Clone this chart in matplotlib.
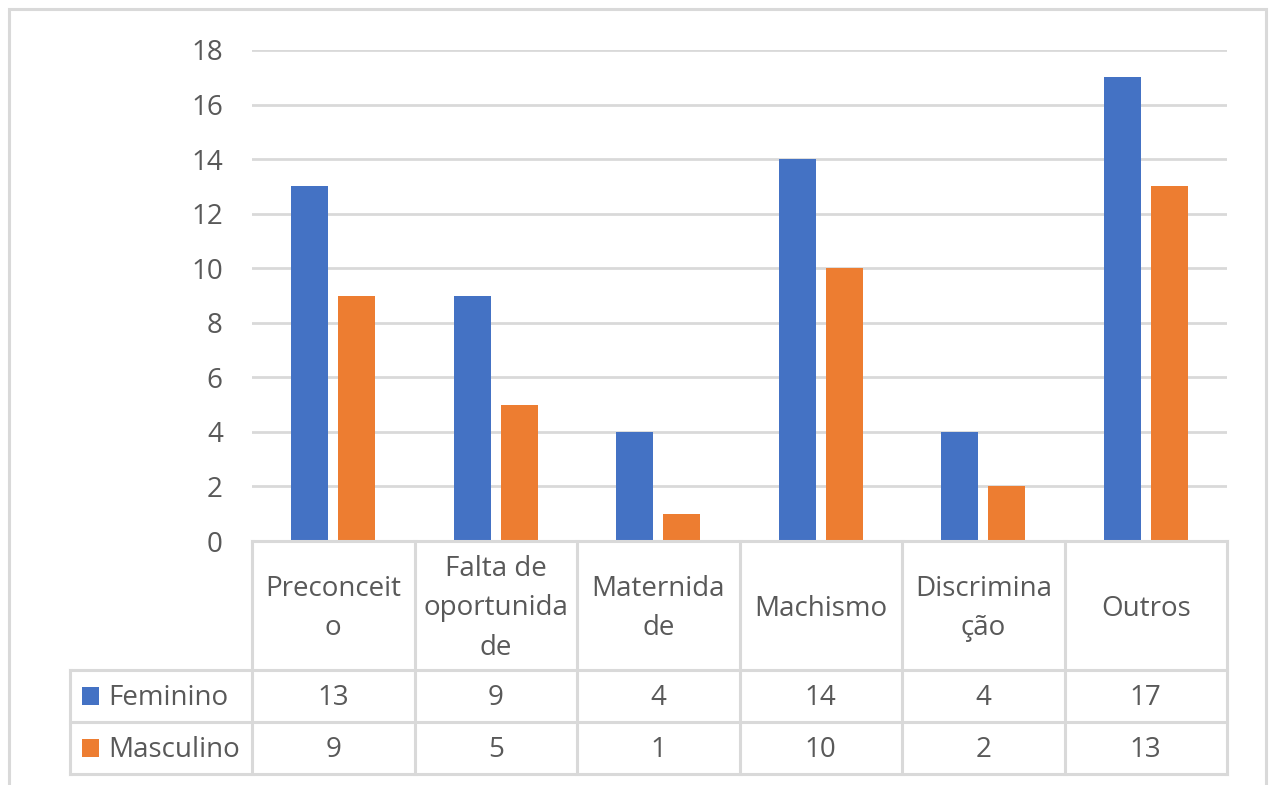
import matplotlib.pyplot as plt
from matplotlib.transforms import blended_transform_factory
from matplotlib.patches import Rectangle

categories = ["Preconceit\no", "Falta de\noportunida\nde", "Maternida\nde",
              "Machismo", "Discrimina\nção", "Outros"]
feminino = [13, 9, 4, 14, 4, 17]
masculino = [9, 5, 1, 10, 2, 13]
series = [("Feminino", feminino, "#4472C4"), ("Masculino", masculino, "#ED7D31")]
yticks = [0, 2, 4, 6, 8, 10, 12, 14, 16, 18]

plt.rcParams["font.family"] = ["Open Sans", "DejaVu Sans"]
text_color = "#595959"
line_color = "#D9D9D9"
fs = 20

W, H = 1272, 785
fig = plt.figure(figsize=(W / 100, H / 100), dpi=100)

# outer chart border
fig.add_artist(Rectangle((9 / W, -0.05), (1266 - 9) / W, 1.05 - 9 / H,
                         transform=fig.transFigure, fill=False,
                         edgecolor=line_color, linewidth=2.2))

ax = fig.add_axes([252 / W, 1 - 541 / H, (1227 - 252) / W, (541 - 50) / H])
n = len(categories)
x = list(range(n))
width = 0.228
offset = 0.145
for i, (name, vals, color) in enumerate(series):
    pos = [xi + (offset if i else -offset) for xi in x]
    ax.bar(pos, vals, width, color=color, zorder=2)

ax.set_xlim(-0.5, n - 0.5)
ax.set_ylim(0, 18)
ax.set_yticks(yticks)
ax.yaxis.grid(True, color=line_color, linewidth=2)
ax.set_axisbelow(True)
for s in ax.spines.values():
    s.set_visible(False)
ax.tick_params(axis="y", length=0, pad=21, labelsize=fs, labelcolor=text_color)
ax.set_xticks([])

# data table below the plot
tr = blended_transform_factory(ax.transData, ax.transAxes)
ax_h = 541 - 50
y_top = 0.0
y_hdr = -(670 - 541) / ax_h
y_r1 = -(722 - 541) / ax_h
y_r2 = -(774 - 541) / ax_h
x_left = -0.5 + (70 - 252) / ((1227 - 252) / n)
lw = 2.2
nudge = 3 / ax_h  # small downward shift of the cell text

def hline(y, x0, x1):
    ax.plot([x0, x1], [y, y], color=line_color, lw=lw, transform=tr,
            clip_on=False, solid_capstyle="projecting")

def vline(xv, y0, y1):
    ax.plot([xv, xv], [y0, y1], color=line_color, lw=lw, transform=tr,
            clip_on=False, solid_capstyle="projecting")

hline(y_top, -0.5, n - 0.5)
hline(y_hdr, x_left, n - 0.5)
hline(y_r1, x_left, n - 0.5)
hline(y_r2, x_left, n - 0.5)
for k in range(n + 1):
    vline(k - 0.5, y_top, y_r2)
vline(x_left, y_hdr, y_r2)

for k, cat in enumerate(categories):
    ax.text(k, (y_top + y_hdr) / 2 - nudge, cat, transform=tr, ha="center",
            va="center", fontsize=fs, color=text_color, linespacing=1.56)

rows = [(y_hdr + y_r1) / 2, (y_r1 + y_r2) / 2]
for (name, vals, color), yr in zip(series, rows):
    for k, v in enumerate(vals):
        ax.text(k, yr - nudge * 0.7, str(v), transform=tr, ha="center",
                va="center", fontsize=fs, color=text_color)
    ax.text(x_left + 0.235, yr - nudge * 0.7, name, transform=tr, ha="left",
            va="center", fontsize=fs, color=text_color)
    ax.add_patch(Rectangle((x_left + 0.075, yr - 0.019), 0.105, 0.038,
                           transform=tr, facecolor=color, clip_on=False))

fig.savefig("out.png", dpi=100)
